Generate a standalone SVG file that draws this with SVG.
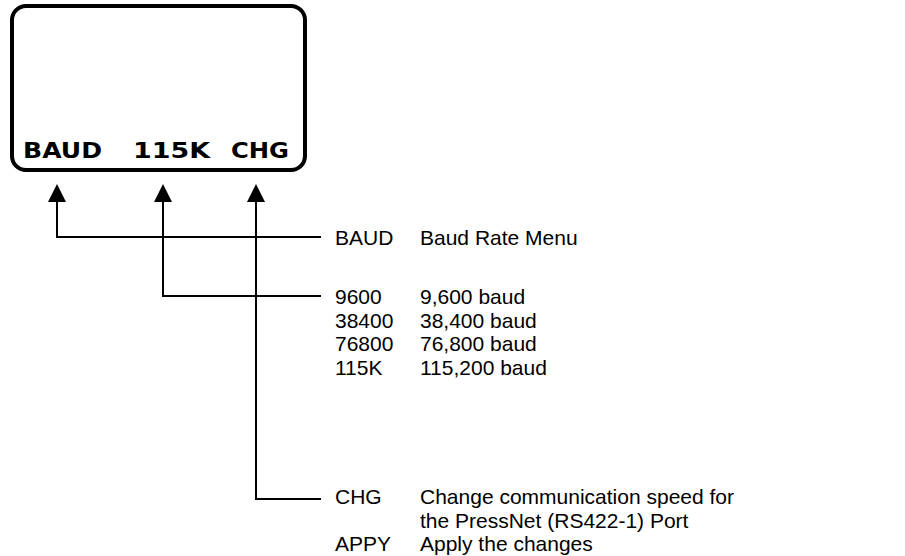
<svg xmlns="http://www.w3.org/2000/svg" width="905" height="556" viewBox="0 0 905 556">
<style>
.lbl{font-family:"Liberation Sans",Arial,sans-serif;font-size:21px;fill:#000}
.lcd{font-family:"DejaVu Sans",sans-serif;font-weight:bold;font-size:22px;fill:#000}
.wire{fill:none;stroke:#000;stroke-width:2}
</style>
<g id="display">
<rect x="12" y="6" width="293" height="164" rx="14" fill="#fff" stroke="#000" stroke-width="4"/>
<text class="lcd" x="23" y="158" textLength="79" lengthAdjust="spacingAndGlyphs">BAUD</text>
<text class="lcd" x="133" y="158" textLength="77" lengthAdjust="spacingAndGlyphs">115K</text>
<text class="lcd" x="231" y="158" textLength="58" lengthAdjust="spacingAndGlyphs">CHG</text>
</g>
<g id="connectors">
<path class="wire" d="M321,237 H57 V202"/>
<path d="M48,202 L57,184 L66,202 Z" fill="#000"/>
<path class="wire" d="M321,296 H163 V202"/>
<path d="M154,202 L163,184 L172,202 Z" fill="#000"/>
<path class="wire" d="M321,499 H256 V202"/>
<path d="M247,202 L256,184 L265,202 Z" fill="#000"/>
</g>
<g id="legend">
<text class="lbl" x="335" y="245">BAUD</text>
<text class="lbl" x="420" y="245">Baud Rate Menu</text>
<text class="lbl" x="335" y="304">9600</text>
<text class="lbl" x="420" y="304">9,600 baud</text>
<text class="lbl" x="335" y="327.5">38400</text>
<text class="lbl" x="420" y="327.5">38,400 baud</text>
<text class="lbl" x="335" y="351">76800</text>
<text class="lbl" x="420" y="351">76,800 baud</text>
<text class="lbl" x="335" y="374.5">115K</text>
<text class="lbl" x="420" y="374.5">115,200 baud</text>
<text class="lbl" x="335" y="504">CHG</text>
<text class="lbl" x="420" y="504">Change communication speed for</text>
<text class="lbl" x="420" y="527.5">the PressNet (RS422-1) Port</text>
<text class="lbl" x="335" y="551">APPY</text>
<text class="lbl" x="420" y="551">Apply the changes</text>
</g>
</svg>
